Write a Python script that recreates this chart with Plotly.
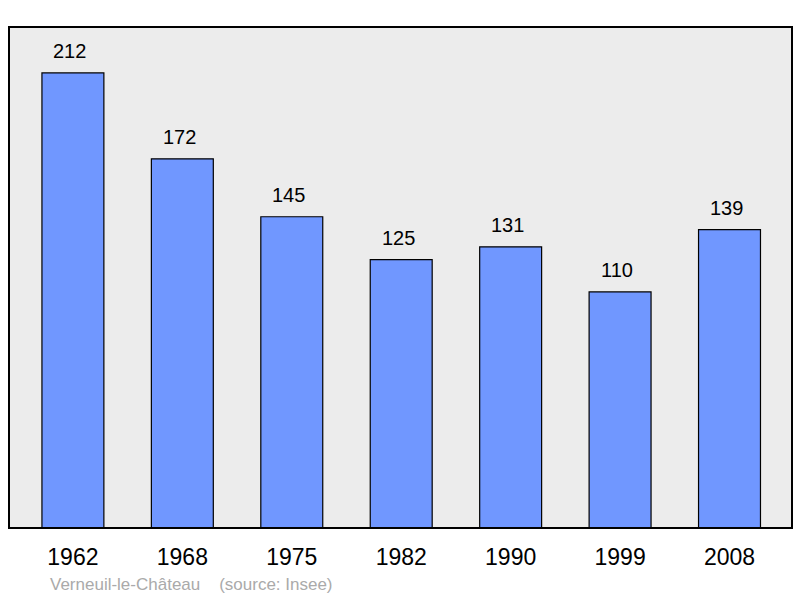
import plotly.graph_objects as go

years = ["1962", "1968", "1975", "1982", "1990", "1999", "2008"]
population = [212, 172, 145, 125, 131, 110, 139]

FONT = "Liberation Sans, Arial"

fig = go.Figure()
fig.add_trace(go.Bar(
    x=list(range(len(years))), y=population,
    width=0.566,
    marker=dict(color="#7097ff", line=dict(color="#000000", width=1.2)),
    hoverinfo="skip",
))

for i, v in enumerate(population):
    fig.add_annotation(x=i, y=v, text=str(v), showarrow=False,
                       yanchor="bottom", yshift=9, xshift=-3,
                       font=dict(family=FONT, size=20, color="#000"))

fig.add_annotation(xref="paper", yref="paper", x=(48 - 9) / 783, y=-(584 - 528) / 501,
                   xanchor="left", yanchor="middle", showarrow=False,
                   text="Verneuil-le-Château&nbsp;&nbsp;&nbsp;&nbsp;(source: Insee)",
                   font=dict(family=FONT, size=17, color="#aaaaaa"))

fig.add_shape(type="rect", xref="paper", yref="paper", x0=0, y0=0, x1=1, y1=1,
              line=dict(color="#000000", width=2), layer="above")

fig.update_layout(
    width=800, height=598,
    margin=dict(l=9, r=8, t=27, b=70),
    paper_bgcolor="#ffffff", plot_bgcolor="#ececec",
    showlegend=False,
    xaxis=dict(range=[-0.584, 6.571], tickmode="array",
               tickvals=list(range(len(years))), ticktext=years,
               ticks="outside", ticklen=8, tickcolor="rgba(0,0,0,0)",
               showgrid=False, zeroline=False,
               tickfont=dict(family=FONT, size=23, color="#000")),
    yaxis=dict(range=[0, 233.4], showticklabels=False, showgrid=False,
               zeroline=False, ticks=""),
)

fig.write_html("out.html", config={"displayModeBar": False},
               post_script="document.body.style.margin='0';document.body.style.overflow='hidden';")
